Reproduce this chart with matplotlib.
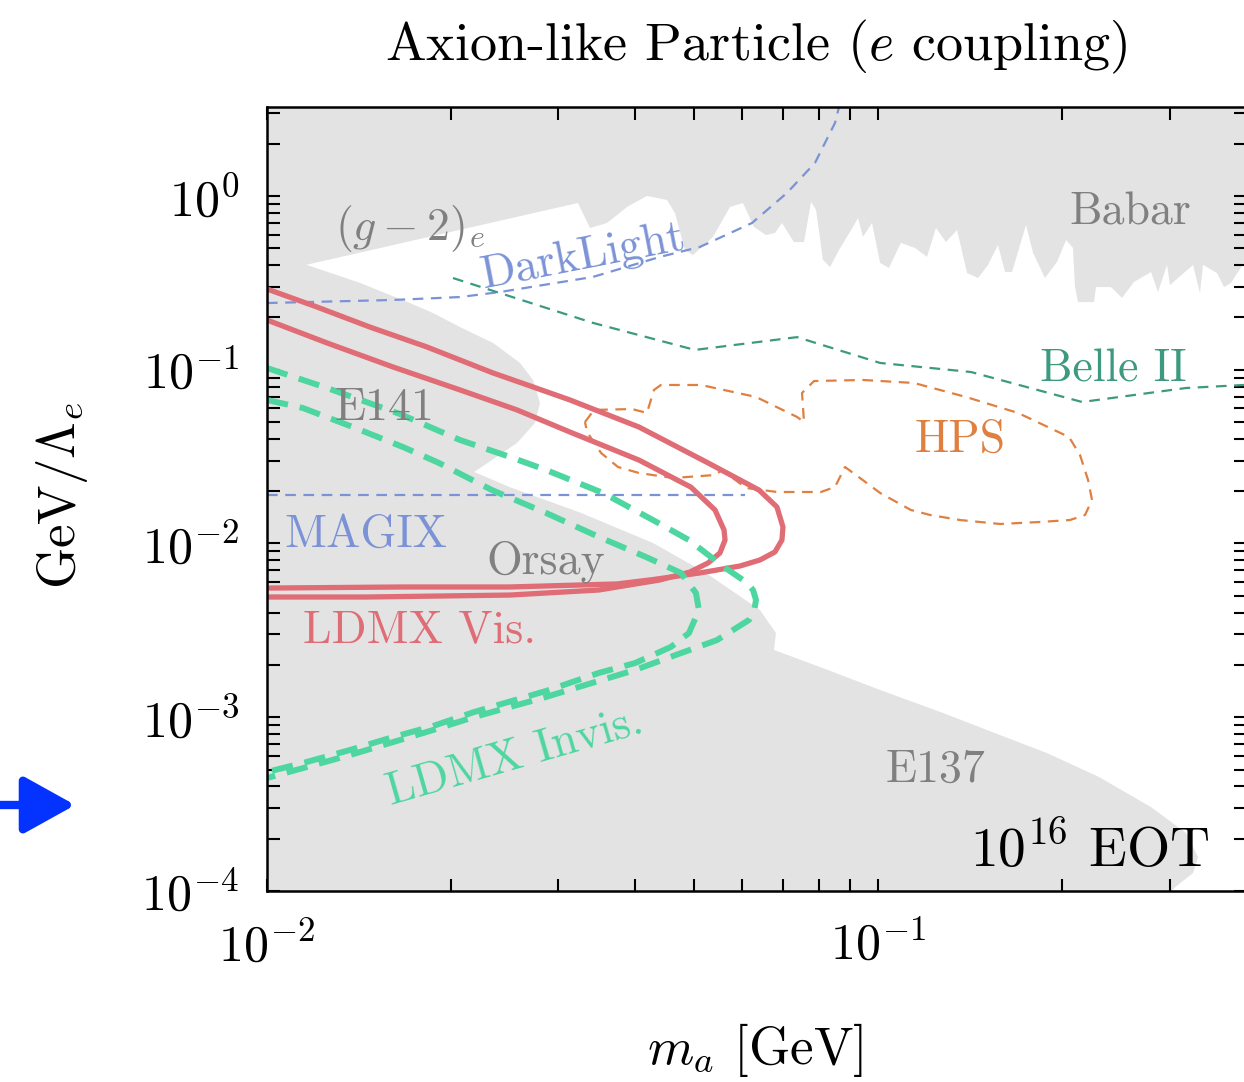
import numpy as np
import matplotlib
matplotlib.use("Agg")
import matplotlib.pyplot as plt
from matplotlib.ticker import LogLocator, NullFormatter

# fonts: Computer Modern look
plt.rcParams['font.family'] = 'serif'
plt.rcParams['font.serif'] = ['cmr10', 'DejaVu Serif']
plt.rcParams['mathtext.fontset'] = 'cm'
plt.rcParams['axes.formatter.use_mathtext'] = True
plt.rcParams['axes.unicode_minus'] = False

# ---- data (m_a [GeV], GeV/Lambda_e) ----
# Babar lower edge (jagged)
babar_m = [0.03228, 0.03378, 0.03602, 0.03884, 0.04187, 0.04515, 0.04653, 0.04831, 0.04979,
           0.05370, 0.05725, 0.06012, 0.06267, 0.06556, 0.06782, 0.06963, 0.07286, 0.07567,
           0.07770, 0.07918, 0.08128, 0.08346, 0.08634, 0.09100, 0.09274, 0.09452, 0.09777,
           0.1008, 0.1042, 0.1090, 0.1150, 0.1203, 0.1244, 0.1292, 0.1347, 0.1399, 0.1458,
           0.1514, 0.1572, 0.1614, 0.1657, 0.1747, 0.1794, 0.1876, 0.1963, 0.2032, 0.2085,
           0.2101, 0.2125, 0.2257, 0.2274, 0.2406, 0.2508, 0.2624, 0.2798, 0.2873, 0.2972,
           0.3005, 0.3278, 0.3365, 0.3404, 0.3588, 0.3684, 0.3782, 0.3972]
babar_g = [0.911, 0.654, 0.699, 0.864, 1.0, 0.948, 0.798, 0.489, 0.457,
           0.581, 0.864, 0.911, 0.663, 0.596, 0.612, 0.699, 0.543, 0.543,
           0.924, 0.831, 0.428, 0.390, 0.489, 0.663, 0.747, 0.581, 0.699,
           0.412, 0.385, 0.537, 0.502, 0.446, 0.654, 0.543, 0.637, 0.360, 0.337,
           0.401, 0.522, 0.365, 0.365, 0.681, 0.470, 0.337, 0.417, 0.558, 0.502,
           0.299, 0.245, 0.245, 0.299, 0.299, 0.259, 0.320, 0.365, 0.280, 0.401,
           0.307, 0.401, 0.276, 0.401, 0.360, 0.299, 0.316, 0.412]

# (g-2)_e wedge edge (tip -> start of Babar)
gm2_m = [0.01, 0.01, 0.01158]
gm2_g = [10.0, 0.401, 0.401]

# E141 / Orsay / E137 upper edge
beam_m = [0.01162, 0.01420, 0.01714, 0.01869, 0.02070, 0.02344, 0.02595, 0.02725, 0.02798,
          0.02746, 0.02566, 0.02334, 0.02183, 0.02498, 0.03265, 0.04282, 0.05229, 0.06411,
          0.06808, 0.06757, 0.08283, 0.1008, 0.1278, 0.1614, 0.1891, 0.2300, 0.2798,
          0.3193, 0.3340, 0.3278, 0.3062, 0.2950]
beam_g = [0.401, 0.316, 0.242, 0.212, 0.176, 0.1426, 0.1094, 0.0873, 0.0644,
          0.0494, 0.0379, 0.0302, 0.0258, 0.0211, 0.0150, 0.01007, 0.00677, 0.00414,
          0.00305, 0.00244, 0.00187, 0.001435, 0.001058, 0.000770, 0.000622, 0.000453, 0.000304,
          0.000216, 0.000157, 0.000127, 0.000105, 0.00009]

darklight_m = [0.01, 0.01608, 0.02070, 0.02406, 0.03416, 0.04398, 0.05112, 0.06220, 0.07096,
               0.07886, 0.08504, 0.08667]
darklight_g = [0.242, 0.252, 0.262, 0.280, 0.342, 0.446, 0.509, 0.699, 1.041,
               1.549, 2.632, 3.43]

magix_m = [0.01, 0.0606]
magix_g = [0.0190, 0.0190]

belle_m = [0.02016, 0.03416, 0.05016, 0.07370, 0.1008, 0.1420, 0.2158, 0.3193, 0.3972]
belle_g = [0.337, 0.186, 0.130, 0.154, 0.1094, 0.0970, 0.0652, 0.0785, 0.0817]

hps_m = [0.03315, 0.03430, 0.03957, 0.04187, 0.04299, 0.04413, 0.05131, 0.06315, 0.07370,
         0.07567, 0.07510, 0.07859, 0.09452, 0.1145, 0.1393, 0.1695, 0.2054, 0.2141,
         0.2207, 0.2240, 0.2182, 0.2062, 0.1842, 0.1584, 0.1362, 0.1217, 0.1132, 0.1008,
         0.09344, 0.08831, 0.08504, 0.08067, 0.06833, 0.06081, 0.05555, 0.05411, 0.04618,
         0.04063, 0.03753, 0.03522, 0.03340, 0.03315]
hps_g = [0.0500, 0.0587, 0.0594, 0.0564, 0.0765, 0.0817, 0.0817, 0.0697, 0.0535,
         0.0500, 0.0735, 0.0861, 0.0873, 0.0839, 0.0697, 0.0564, 0.0410, 0.0323,
         0.0232, 0.0178, 0.01459, 0.01365, 0.01330, 0.01295, 0.01365, 0.01459, 0.01559, 0.01953,
         0.02382, 0.02756, 0.02114, 0.01979, 0.01979, 0.02087, 0.02649, 0.02478, 0.02382,
         0.02545, 0.02756, 0.03319, 0.04383, 0.0500]

vis_out_m = [0.01, 0.01207, 0.01474, 0.01827, 0.02344, 0.02725, 0.03132, 0.04063, 0.05269,
             0.06387, 0.06833, 0.06990, 0.06963, 0.06782, 0.06411, 0.05944, 0.05112, 0.04282,
             0.03739, 0.02498, 0.01670, 0.01]
vis_out_g = [0.2915, 0.2297, 0.176, 0.1352, 0.0958, 0.0796, 0.0670, 0.0468, 0.0291,
             0.0203, 0.01622, 0.01245, 0.01047, 0.00894, 0.00804, 0.00742, 0.00677, 0.00620,
             0.00585, 0.00562, 0.00562, 0.00554]
vis_in_m = [0.01, 0.01254, 0.01608, 0.02070, 0.02566, 0.03132, 0.04063, 0.04941, 0.05411,
            0.05598, 0.05619, 0.05512, 0.05269, 0.04922, 0.04398, 0.03494, 0.02498, 0.01458,
            0.01]
vis_in_g = [0.1933, 0.1426, 0.1037, 0.0765, 0.0587, 0.0438, 0.0302, 0.0211, 0.01559,
            0.01196, 0.01047, 0.00882, 0.00772, 0.00685, 0.00617, 0.00540, 0.00505, 0.00492,
            0.00492]

inv_out_m = [0.01, 0.01254, 0.01651, 0.02070, 0.02498, 0.02861, 0.03548, 0.04282, 0.04904,
             0.05598, 0.06081, 0.06244, 0.06315, 0.06270, 0.06150, 0.05451, 0.04759, 0.04002,
             0.03403, 0.02861, 0.02183, 0.01869, 0.01590, 0.01367, 0.01162, 0.01]
inv_out_g = [0.1023, 0.0785, 0.0556, 0.0394, 0.0315, 0.0265, 0.01953, 0.01365, 0.01047,
             0.00732, 0.00600, 0.00540, 0.00473, 0.00410, 0.00363, 0.00278, 0.00234, 0.00187,
             0.001575, 0.001308, 0.001003, 0.000844, 0.000711, 0.000606, 0.000517, 0.000447]
inv_in_m = [0.01, 0.01145, 0.01382, 0.01670, 0.01911, 0.02334, 0.02861, 0.03494, 0.04172,
            0.04759, 0.05036, 0.05093, 0.04904, 0.04583, 0.04002, 0.03494, 0.02861, 0.02183,
            0.01869, 0.01590, 0.01367, 0.01162, 0.01]
inv_in_g = [0.0670, 0.0602, 0.0468, 0.0359, 0.0291, 0.0203, 0.0150, 0.01090, 0.00836,
            0.00677, 0.00519, 0.00414, 0.00305, 0.00254, 0.00205, 0.00180, 0.001416, 0.001072,
            0.000890, 0.000760, 0.000648, 0.000553, 0.000484]

grey = '#e3e3e3'
c_vis = '#e06c75'
c_inv = '#4dd6a0'
c_blue = '#7b93d6'
c_belle = '#3d9a80'
c_hps = '#e08040'
c_txt = '#808080'

fig = plt.figure(figsize=(12.44, 10.82), dpi=100)
ax = fig.add_axes([0.2146, 0.1765, 0.7869, 0.7246])
ax.set_xscale('log')
ax.set_yscale('log')
ax.set_xlim(0.01, 0.4)
ax.set_ylim(1e-4, 3.25)

# grey excluded regions
top_m = gm2_m + babar_m + [0.5, 0.5]
top_g = gm2_g + babar_g + [0.412, 10.0]
ax.fill(top_m, top_g, color=grey, lw=0, zorder=0)
low_m = [0.01, 0.01] + beam_m + [0.2950]
low_g = [1e-5, 0.401] + beam_g + [1e-5]
ax.fill(low_m, low_g, color=grey, lw=0, zorder=0)

thin = dict(lw=1.6, dashes=(4.8, 3.4))
ax.plot(darklight_m, darklight_g, color=c_blue, **thin)
ax.plot(magix_m, magix_g, color=c_blue, **thin)
ax.plot(belle_m, belle_g, color=c_belle, **thin)
ax.plot(hps_m, hps_g, color=c_hps, **thin)

ax.plot(vis_out_m, vis_out_g, color=c_vis, lw=3.8, solid_joinstyle='round')
ax.plot(vis_in_m, vis_in_g, color=c_vis, lw=3.8, solid_joinstyle='round')
ax.plot(inv_out_m, inv_out_g, color=c_inv, lw=4.3, dashes=(3.6, 2.0))
ax.plot(inv_in_m, inv_in_g, color=c_inv, lw=4.3, dashes=(3.6, 2.0))

fs = 33
ax.text(0.01714, 0.654, r'$(g-2)_e$', color=c_txt, fontsize=fs, ha='center', va='center')
ax.text(0.03290, 0.440, 'DarkLight', color=c_blue, fontsize=fs, ha='center', va='center', rotation=11)
ax.text(0.2585, 0.798, 'Babar', color=c_txt, fontsize=fs, ha='center', va='center')
ax.text(0.2424, 0.0997, 'Belle II', color=c_belle, fontsize=fs, ha='center', va='center')
ax.text(0.1362, 0.0394, 'HPS', color=c_hps, fontsize=fs, ha='center', va='center')
ax.text(0.01560, 0.0602, 'E141', color=c_txt, fontsize=fs, ha='center', va='center')
ax.text(0.01453, 0.01119, 'MAGIX', color=c_blue, fontsize=fs, ha='center', va='center')
ax.text(0.02861, 0.00782, 'Orsay', color=c_txt, fontsize=fs, ha='center', va='center')
ax.text(0.01780, 0.00318, 'LDMX Vis.', color=c_vis, fontsize=fs, ha='center', va='center')
ax.text(0.02546, 0.00059, 'LDMX Invis.', color=c_inv, fontsize=fs, ha='center', va='center', rotation=16)
ax.text(0.1240, 0.000497, 'E137', color=c_txt, fontsize=fs, ha='center', va='center')
ax.text(0.3494, 0.000172, r'$10^{16}$ EOT', color='black', fontsize=40, ha='right', va='center')

# ticks: inward on all sides, minor same length as major
ax.xaxis.set_major_locator(LogLocator(base=10, numticks=10))
ax.xaxis.set_minor_locator(LogLocator(base=10, subs=np.arange(2, 10), numticks=10))
ax.yaxis.set_major_locator(LogLocator(base=10, numticks=10))
ax.yaxis.set_minor_locator(LogLocator(base=10, subs=np.arange(2, 10), numticks=10))
ax.xaxis.set_minor_formatter(NullFormatter())
ax.yaxis.set_minor_formatter(NullFormatter())
ax.tick_params(which='both', direction='in', top=True, right=True, length=9, width=1.5,
               labelsize=36)
ax.tick_params(axis='x', which='major', pad=22)
ax.tick_params(axis='y', which='major', pad=20)
for s in ax.spines.values():
    s.set_linewidth(1.8)

fig.text(0.6077, 0.9566, r'Axion-like Particle ($e$ coupling)', fontsize=39, ha='center', va='center')
fig.text(0.0498, 0.5425, r'$\mathrm{GeV}/\Lambda_e$', fontsize=38, rotation=90, ha='center', va='center')
fig.text(0.607, 0.0296, r'$m_a$ [GeV]', fontsize=38, ha='center', va='center')

# blue pointer arrow on the left margin
ax.annotate('', xy=(78, 277), xytext=(-10, 277), xycoords='figure pixels',
            textcoords='figure pixels', annotation_clip=False,
            arrowprops=dict(arrowstyle='-|>,head_length=0.45,head_width=0.25',
                            color='#0433ff', lw=6, mutation_scale=70))

fig.savefig('out.png', dpi=100)
